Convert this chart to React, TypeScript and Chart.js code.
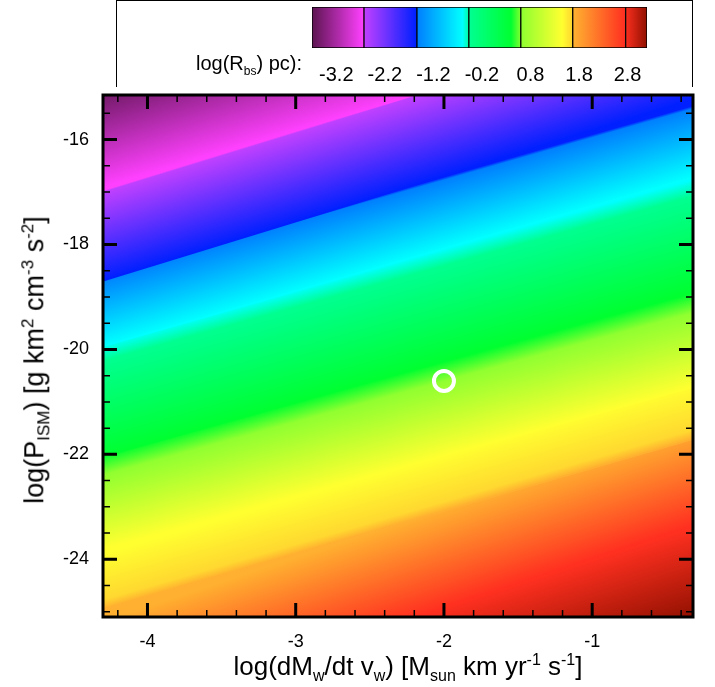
import { useEffect, useRef } from 'react';
import { Chart, registerables } from 'chart.js';

Chart.register(...registerables);

// axis ranges and tick labels
const xRange = [-4.3, -0.32];
const yRange = [-25.1, -15.15];
const xTicks = [-4, -3, -2, -1];
const yTicks = [-24, -22, -20, -18, -16];

// colour map of log(R_bs): level -> colour (with the small jumps seen in the colour bar)
const cmapLevels = [-3.7, -2.64, -2.62, -1.56, -1.52, -0.6, -0.45, 0.4, 0.62, 1.45, 1.65, 1.69, 2.74, 3.2];
const cmapColors = ['#5c1450', '#ff40ff', '#c040ff', '#0020ff', '#0080ff', '#00ffff', '#00ff90', '#00ff30', '#90ff30', '#ffff30', '#ffd830', '#ffb030', '#ff3020', '#901000'];

// contour lines of the field: value, log P at left edge and at right edge
const contourLevels = [-3.7, -2.64, -1.56, -0.6, 0.4, 1.45, 1.69, 2.74, 3.2];
const contourLeftY = [-14.86, -16.91, -18.69, -19.94, -22.04, -23.81, -24.95, -27.05, -28.76];
const contourRightY = [-11.52, -13.58, -15.24, -16.72, -18.9, -20.72, -21.71, -23.35, -25.14];

// the marked source
const markerX = [-2.0];
const markerY = [-20.6];

// colour bar
const barRange = [-3.7, 3.2];
const barEdges = [-3.7, -2.63, -1.54, -0.47, 0.6, 1.67, 2.76, 3.2];
const barTicks = [-3.2, -2.2, -1.2, -0.2, 0.8, 1.8, 2.8];

const FONT = '"Liberation Sans", Arial, sans-serif';

function hex(c: string) {
  return [1, 3, 5].map((i) => parseInt(c.slice(i, i + 2), 16));
}
function colorAt(v: number) {
  if (v <= cmapLevels[0]) return cmapColors[0];
  for (let i = 1; i < cmapLevels.length; i++) {
    if (v <= cmapLevels[i]) {
      const t = (v - cmapLevels[i - 1]) / (cmapLevels[i] - cmapLevels[i - 1]);
      const a = hex(cmapColors[i - 1]);
      const b = hex(cmapColors[i]);
      const m = a.map((x, k) => Math.round(x + (b[k] - x) * t));
      return `rgb(${m[0]},${m[1]},${m[2]})`;
    }
  }
  return cmapColors[cmapColors.length - 1];
}

// inward tick marks on all four sides, and the frame
const tickPlugin = {
  id: 'inTicks',
  afterDraw(chart: any) {
    const { ctx, chartArea: a, scales } = chart;
    ctx.save();
    ctx.strokeStyle = '#000';
    const mark = (isX: boolean, v: number, major: boolean) => {
      const len = major ? 14 : 7;
      ctx.lineWidth = major ? 3 : 1.5;
      ctx.beginPath();
      if (isX) {
        const p = scales.x.getPixelForValue(v);
        ctx.moveTo(p, a.bottom); ctx.lineTo(p, a.bottom - len);
        ctx.moveTo(p, a.top); ctx.lineTo(p, a.top + len);
      } else {
        const p = scales.y.getPixelForValue(v);
        ctx.moveTo(a.left, p); ctx.lineTo(a.left + len, p);
        ctx.moveTo(a.right, p); ctx.lineTo(a.right - len, p);
      }
      ctx.stroke();
    };
    for (let i = -21; i <= -2; i++) {
      const v = i * 0.2;
      if (v > xRange[0] && v < xRange[1]) mark(true, v, i % 5 === 0);
    }
    for (let i = -50; i <= -31; i++) {
      const v = i * 0.5;
      if (v > yRange[0] && v < yRange[1]) mark(false, v, i % 4 === 0);
    }
    ctx.lineWidth = 3;
    ctx.strokeRect(a.left, a.top, a.right - a.left, a.bottom - a.top);
    ctx.restore();
  },
};

function bandFill(i: number) {
  return (c: any) => {
    const chart = c.chart;
    const sx = chart.scales?.x;
    const sy = chart.scales?.y;
    if (!chart.chartArea || !sx || !sy) return colorAt(contourLevels[i]);
    const xm = (xRange[0] + xRange[1]) / 2;
    const px = sx.getPixelForValue(xm);
    const y0 = sy.getPixelForValue((contourLeftY[i - 1] + contourRightY[i - 1]) / 2);
    const y1 = sy.getPixelForValue((contourLeftY[i] + contourRightY[i]) / 2);
    const dx = sx.getPixelForValue(xRange[1]) - sx.getPixelForValue(xRange[0]);
    const dy = sy.getPixelForValue(contourRightY[i]) - sy.getPixelForValue(contourLeftY[i]);
    const L = Math.hypot(dx, dy);
    const nx = -dy / L, ny = dx / L;
    const d = (y1 - y0) * ny;
    const g = chart.ctx.createLinearGradient(px, y0, px + nx * d, y0 + ny * d);
    const v0 = contourLevels[i - 1], v1 = contourLevels[i];
    g.addColorStop(0, colorAt(v0));
    cmapLevels.forEach((lv, k) => {
      if (lv > v0 && lv < v1) g.addColorStop((lv - v0) / (v1 - v0), cmapColors[k]);
    });
    g.addColorStop(1, colorAt(v1));
    return g;
  };
}

function MainChart() {
  const ref = useRef<HTMLCanvasElement>(null);
  useEffect(() => {
    if (!ref.current) return;
    const n = contourLevels.length;
    const lineData = (i: number) => [
      { x: xRange[0], y: contourLeftY[i] },
      { x: xRange[1], y: contourRightY[i] },
    ];
    const datasets: any[] = [
      { data: lineData(0), fill: 'end', backgroundColor: cmapColors[0], borderWidth: 0, pointRadius: 0, order: 10 },
    ];
    for (let i = 1; i < n; i++) {
      datasets.push({ data: lineData(i), fill: '-1', backgroundColor: bandFill(i), borderColor: colorAt(contourLevels[i]), borderWidth: 1.5, pointRadius: 0, order: 10 });
    }
    datasets.push({ data: lineData(n - 1), fill: 'start', backgroundColor: cmapColors[cmapColors.length - 1], borderWidth: 0, pointRadius: 0, order: 10 });
    datasets.push({
      data: markerX.map((x, i) => ({ x, y: markerY[i] })),
      showLine: false,
      fill: false,
      pointStyle: 'circle',
      pointRadius: 10,
      pointBorderWidth: 4,
      pointBorderColor: '#ffffff',
      borderColor: '#ffffff',
      pointBackgroundColor: 'rgba(0,0,0,0)',
      backgroundColor: 'rgba(0,0,0,0)',
      order: 0,
    });
    const chart = new Chart(ref.current, {
      type: 'line',
      data: { datasets },
      options: {
        animation: false,
        responsive: false,
        layout: { padding: { left: 43, top: 95, right: 22, bottom: 20 } },
        plugins: { legend: { display: false }, tooltip: { enabled: false } },
        scales: {
          x: {
            type: 'linear', min: xRange[0], max: xRange[1],
            grid: { display: false }, border: { display: false },
            afterBuildTicks: (s: any) => { s.ticks = xTicks.map((v) => ({ value: v })); },
            afterFit: (s: any) => { s.height = 50; },
            ticks: { color: '#000', font: { family: FONT, size: 18 }, padding: 6 },
          },
          y: {
            type: 'linear', min: yRange[0], max: yRange[1],
            grid: { display: false }, border: { display: false },
            afterBuildTicks: (s: any) => { s.ticks = yTicks.map((v) => ({ value: v })); },
            afterFit: (s: any) => { s.width = 60; },
            ticks: { color: '#000', font: { family: FONT, size: 18 }, padding: 6 },
          },
        },
      } as any,
      plugins: [tickPlugin],
    });
    return () => chart.destroy();
  }, []);
  return <canvas ref={ref} width={715} height={687} style={{ position: 'absolute', left: 0, top: 0 }} />;
}

function ColorBar() {
  const ref = useRef<HTMLCanvasElement>(null);
  useEffect(() => {
    if (!ref.current) return;
    const grad = (c: any) => {
      const chart = c.chart;
      const sx = chart.scales?.x;
      if (!chart.chartArea || !sx) return cmapColors[0];
      const p0 = sx.getPixelForValue(barRange[0]);
      const p1 = sx.getPixelForValue(barRange[1]);
      const g = chart.ctx.createLinearGradient(p0, 0, p1, 0);
      cmapLevels.forEach((lv, k) => g.addColorStop((lv - barRange[0]) / (barRange[1] - barRange[0]), cmapColors[k]));
      return g;
    };
    const chart = new Chart(ref.current, {
      type: 'bar',
      data: {
        labels: ['bar'],
        datasets: barEdges.slice(1).map((e, i) => ({
          data: [[barEdges[i], e]],
          backgroundColor: grad,
          borderColor: '#000',
          borderWidth: 1,
          borderSkipped: false,
          grouped: false,
          barPercentage: 1,
          categoryPercentage: 1,
        })),
      },
      options: {
        indexAxis: 'y',
        animation: false,
        responsive: false,
        layout: { padding: { left: 62, top: 7, right: 53, bottom: 0 } },
        plugins: { legend: { display: false }, tooltip: { enabled: false } },
        scales: {
          y: { display: false },
          x: {
            type: 'linear', min: barRange[0], max: barRange[1],
            grid: { display: false }, border: { display: false },
            afterBuildTicks: (s: any) => { s.ticks = barTicks.map((v) => ({ value: v })); },
            afterFit: (s: any) => { s.height = 38; },
            ticks: { color: '#000', font: { family: FONT, size: 20 }, padding: 7, callback: (v: any) => Number(v).toFixed(1) },
          },
        },
      } as any,
    });
    return () => chart.destroy();
  }, []);
  return <canvas ref={ref} width={450} height={86} style={{ position: 'absolute', left: 250, top: 0 }} />;
}

export default function App() {
  const text: any = { position: 'absolute', fontFamily: FONT, color: '#000', whiteSpace: 'nowrap', lineHeight: 1 };
  const s = (size: number) => ({ fontSize: size });
  return (
    <div style={{ position: 'fixed', left: 0, top: 0, width: 715, height: 687, background: '#fff', overflow: 'hidden' }}>
      <div style={{ position: 'absolute', left: 116, top: 0, width: 575, height: 86, borderTop: '1px solid #000', borderLeft: '1px solid #000', borderRight: '1px solid #000' }} />
      <ColorBar />
      <MainChart />
      <div style={{ ...text, right: 715 - 302, top: 53, fontSize: 20 }}>
        log(R<sub style={s(12)}>bs</sub>) pc):
      </div>
      <div style={{ ...text, left: 408, top: 652, transform: 'translateX(-50%)', fontSize: 26 }}>
        log(dM<sub style={s(16)}>w</sub>/dt v<sub style={s(16)}>w</sub>) [M<sub style={s(16)}>sun</sub> km yr<sup style={s(16)}>-1</sup> s<sup style={s(16)}>-1</sup>]
      </div>
      <div style={{ ...text, left: 36, top: 360, transform: 'translate(-50%,-50%) rotate(-90deg)', fontSize: 27 }}>
        log(P<sub style={s(17)}>ISM</sub>) [g km<sup style={s(17)}>2</sup> cm<sup style={s(17)}>-3</sup> s<sup style={s(17)}>-2</sup>]
      </div>
    </div>
  );
}
